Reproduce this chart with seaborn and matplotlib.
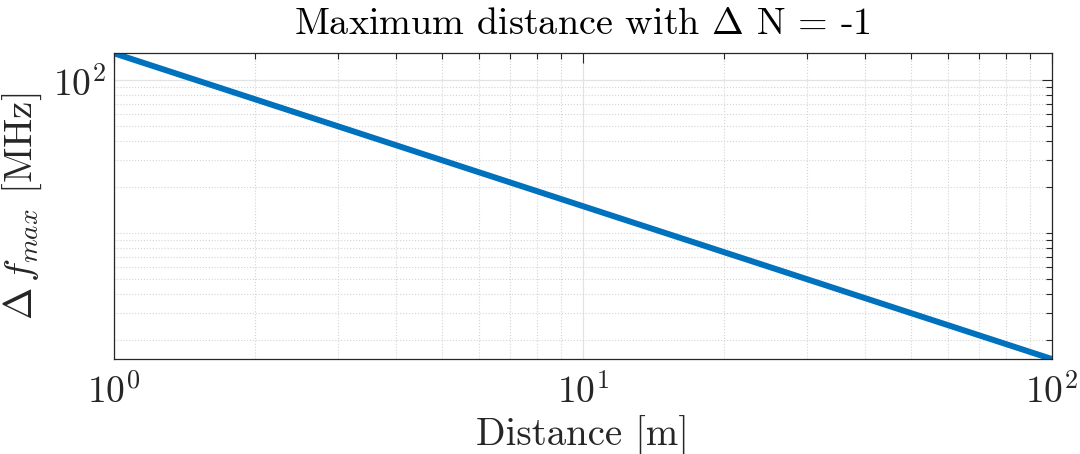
import matplotlib
matplotlib.use("Agg")
import matplotlib.pyplot as plt
import matplotlib.ticker as mticker
import numpy as np
import pandas as pd
import seaborn as sns

# distance [m] and max frequency step [MHz]
distance = [1, 2, 5, 10, 20, 50, 100]
delta_f = [150, 75, 30, 15, 7.5, 3, 1.5]

df = pd.DataFrame({"Distance": distance, "DeltaF": delta_f})

sns.set_style("white")
plt.rcParams["font.family"] = "serif"
plt.rcParams["font.serif"] = ["cmr10"]
plt.rcParams["mathtext.fontset"] = "cm"
plt.rcParams["axes.formatter.use_mathtext"] = True

fig = plt.figure(figsize=(10.8, 4.54), dpi=100)
ax = fig.add_axes([0.1056, 0.2093, 0.8682, 0.6733])

sns.lineplot(data=df, x="Distance", y="DeltaF", ax=ax, color="#0072BD", linewidth=4.3)

ax.set_xscale("log")
ax.set_yscale("log")
ax.set_xlim(1, 100)
ax.set_ylim(1.5, 150)

ax.set_xticks([1, 10, 100])
ax.xaxis.set_minor_locator(mticker.LogLocator(base=10, subs=np.arange(2, 10)))
ax.xaxis.set_minor_formatter(mticker.NullFormatter())
ax.set_yticks([100])
ax.set_yticklabels([r"$10^{2}$"])
ax.yaxis.set_minor_locator(mticker.FixedLocator(
    [2, 3, 4, 5, 6, 7, 8, 9, 10, 20, 30, 40, 50, 60, 70, 80, 90]))
ax.yaxis.set_minor_formatter(mticker.NullFormatter())

ax.grid(True, which="major", color="#e3e3e3", linestyle="-", linewidth=0.9)
ax.grid(True, which="minor", color="#d4d4d4", linestyle=":", linewidth=0.8)
ax.set_axisbelow(True)

ax.tick_params(which="both", direction="in", top=True, right=True,
               colors="#262626", labelsize=27)
ax.tick_params(which="major", length=7, width=0.8)
ax.tick_params(which="minor", length=4, width=0.8)
ax.tick_params(axis="x", pad=10)
ax.tick_params(axis="y", pad=6)
for s in ax.spines.values():
    s.set_color("#262626")
    s.set_linewidth(0.9)

ax.set_xlabel("Distance [m]", fontsize=28, color="#262626", labelpad=4)
ax.set_ylabel(r"$\Delta\, f_{max}$ [MHz]", fontsize=28, color="#262626", labelpad=6)
ax.set_title(r"Maximum distance with $\Delta$ N = -1", fontsize=27.5, color="black", pad=14)

fig.savefig("out.png", dpi=100)
